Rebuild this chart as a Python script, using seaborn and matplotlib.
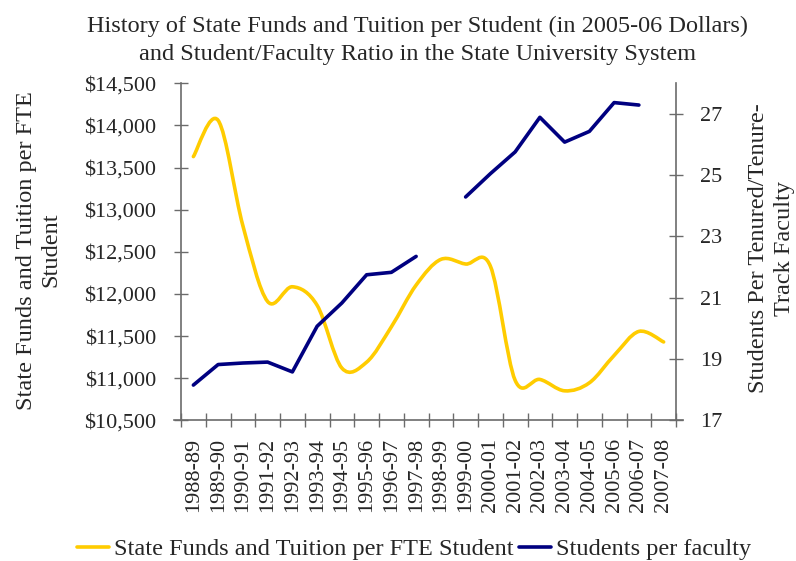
import numpy as np
import pandas as pd
import matplotlib.pyplot as plt
from matplotlib.path import Path
from matplotlib.patches import PathPatch
from matplotlib.lines import Line2D
from matplotlib.ticker import FuncFormatter, FixedLocator
import seaborn as sns

years = ["1988-89", "1989-90", "1990-91", "1991-92", "1992-93", "1993-94", "1994-95",
         "1995-96", "1996-97", "1997-98", "1998-99", "1999-00", "2000-01", "2001-02",
         "2002-03", "2003-04", "2004-05", "2005-06", "2006-07", "2007-08"]
funds_per_fte = [13630, 14060, 12810, 11910, 12085, 11865, 11120, 11190, 11610, 12105,
                 12410, 12355, 12330, 10975, 10985, 10850, 10945, 11270, 11555, 11430]
students_per_faculty = [18.15, 18.82, 18.87, 18.90, 18.58, 20.07, 20.83, 21.75, 21.83, 22.35,
                        np.nan, 24.29, 25.05, 25.76, 26.89, 26.08, 26.43, 27.37, 27.29, np.nan]

YELLOW = "#FFCC00"
NAVY = "#000080"
AXIS_GREY = "#6b6b6b"
LABEL_SIZE = 17.5


def smooth_path(xs, ys):
    # excel-like smoothed line: catmull-rom segments as bezier curves
    pts = np.column_stack([xs, ys]).astype(float)
    verts = [pts[0]]
    codes = [Path.MOVETO]
    n = len(pts)
    for i in range(n - 1):
        p0 = pts[max(i - 1, 0)]
        p1 = pts[i]
        p2 = pts[i + 1]
        p3 = pts[min(i + 2, n - 1)]
        verts += [p1 + (p2 - p0) / 6, p2 - (p3 - p1) / 6, p2]
        codes += [Path.CURVE4] * 3
    return Path(verts, codes)


sns.set_style("ticks")
plt.rcParams['font.family'] = ['Liberation Serif', 'DejaVu Serif']
plt.rcParams['font.size'] = 16

fig = plt.figure(figsize=(7.96, 5.61), dpi=100)
ax = fig.add_axes([181 / 796, 1 - 420.3 / 561, 495 / 796, 337 / 561])
ax2 = ax.twinx()

pos = np.arange(len(years))

ax.add_patch(PathPatch(smooth_path(pos, funds_per_fte), facecolor="none",
                       edgecolor=YELLOW, lw=2.6, capstyle="round", joinstyle="round"))

faculty = pd.DataFrame({"pos": pos, "ratio": students_per_faculty})
faculty["segment"] = (faculty["ratio"].isna()).cumsum()
faculty = faculty.dropna()
sns.lineplot(data=faculty, x="pos", y="ratio", units="segment", estimator=None,
             color=NAVY, lw=2.6, ax=ax2, solid_capstyle="round")

ax.set_xlim(-0.5, len(years) - 0.5)
ax.set_ylim(10500, 14500)
ax.set_yticks(np.arange(10500, 14501, 500))
ax.yaxis.set_major_formatter(FuncFormatter(lambda v, p: f"${v:,.0f}"))
ax2.set_ylim(17, 28)
ax2.set_yticks([17, 19, 21, 23, 25, 27])

ax.set_xticks(pos)
ax.set_xticklabels(years, rotation=90)
ax.xaxis.set_minor_locator(FixedLocator(np.arange(-0.5, len(years), 1)))
ax.tick_params(axis="x", which="major", length=0, pad=13)
ax.tick_params(axis="x", which="minor", length=10, direction="inout", color=AXIS_GREY, width=1)
ax.tick_params(axis="y", length=10, direction="inout", color=AXIS_GREY, width=1, pad=13)
ax2.tick_params(axis="y", length=10, direction="inout", color=AXIS_GREY, width=1, pad=12)

for a in (ax, ax2):
    a.spines["top"].set_visible(False)
    for s in ("left", "right", "bottom"):
        a.spines[s].set_color(AXIS_GREY)
        a.spines[s].set_linewidth(1.2)
ax.spines["right"].set_visible(False)
ax2.spines["left"].set_visible(False)
ax2.spines["bottom"].set_visible(False)
ax.spines["bottom"].set_bounds(-0.78, len(years) - 0.22)
ax2.set_xlabel("")

ax.set_ylabel("State Funds and Tuition per FTE\nStudent", fontsize=LABEL_SIZE, linespacing=1.23)
ax.yaxis.set_label_coords(-0.242, 0.505)
ax2.set_ylabel("Students Per Tenured/Tenure-\nTrack Faculty", fontsize=LABEL_SIZE, linespacing=1.35)
ax2.yaxis.set_label_coords(1.145, 0.51)

fig.suptitle("History of State Funds and Tuition per Student (in 2005-06 Dollars)\n"
             "and Student/Faculty Ratio in the State University System",
             x=0.524, y=0.972, fontsize=LABEL_SIZE, linespacing=1.46)

handles = [Line2D([], [], color=YELLOW, lw=2.6), Line2D([], [], color=NAVY, lw=2.6)]
fig.legend(handles, ["State Funds and Tuition per FTE Student", "Students per faculty"],
           loc="center", bbox_to_anchor=(0.52, 0.021), ncol=2, frameon=False,
           handlelength=1.3, handletextpad=0.2, columnspacing=0.25, fontsize=LABEL_SIZE,
           borderpad=0, borderaxespad=0)

fig.savefig("out.png", dpi=100)
